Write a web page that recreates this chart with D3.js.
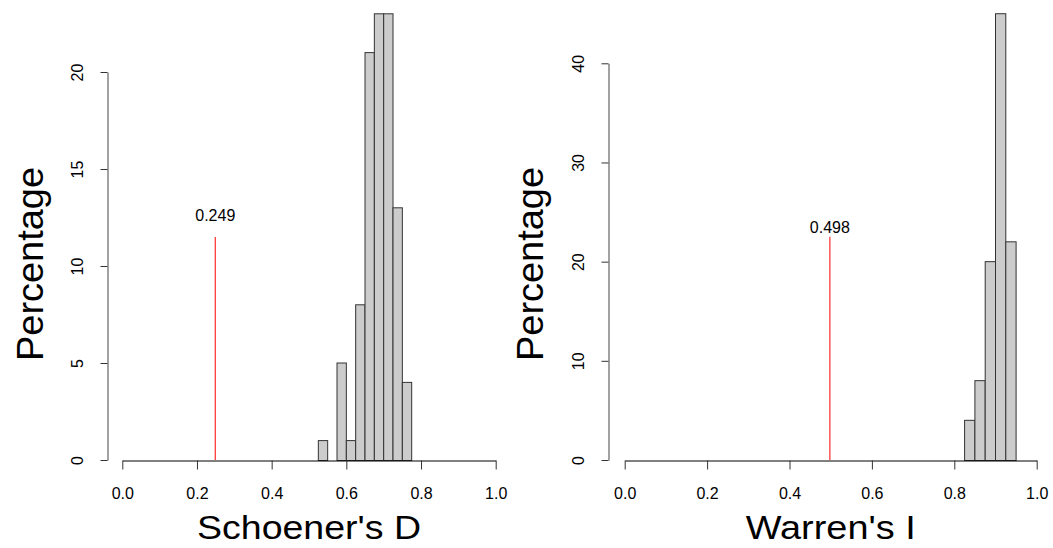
<!DOCTYPE html>
<html>
<head>
<meta charset="utf-8">
<script src="https://cdn.jsdelivr.net/npm/d3@7"></script>
<style>
  body { margin: 0; background: #fff; }
  svg { display: block; }
  text { font-family: "Liberation Sans", Helvetica, Arial, sans-serif; fill: #000; }
</style>
</head>
<body>
<svg id="chart" width="1053" height="548"></svg>
<script>
// ---- Data ----
const binWidth = 0.025;
// Schoener's D histogram: bin start and percentage
const dBinStarts = [0.525, 0.550, 0.575, 0.600, 0.625, 0.650, 0.675, 0.700, 0.725, 0.750];
const dValues    = [1, 0, 5, 1, 8, 21, 23, 23, 13, 4];
const dObserved  = 0.249;
// Warren's I histogram
const iBinStarts = [0.825, 0.850, 0.875, 0.900, 0.925];
const iValues    = [4, 8, 20, 45, 22];
const iObserved  = 0.498;
// Axis ticks
const xTicks = [0, 0.2, 0.4, 0.6, 0.8, 1.0];
const dYTicks = [0, 5, 10, 15, 20];
const iYTicks = [0, 10, 20, 30, 40];
const titles = ["Schoener's D", "Warren's I"];
const yTitle = "Percentage";

const svg = d3.select("#chart");

function panel(cfg) {
  const x = d3.scaleLinear().domain([0, 1]).range([cfg.x0, cfg.x1]);
  const y = d3.scaleLinear().domain([0, cfg.yMax]).range([460, cfg.yTop]);
  const g = svg.append("g");

  // bars
  g.selectAll("rect.bar")
    .data(cfg.starts.map((s, i) => ({ s, v: cfg.values[i] })).filter(d => d.v > 0))
    .join("rect")
    .attr("class", "bar")
    .attr("x", d => x(d.s))
    .attr("width", d => x(d.s + binWidth) - x(d.s))
    .attr("y", d => y(d.v))
    .attr("height", d => y(0) - y(d.v) + 0.5)
    .attr("fill", "#cccccc")
    .attr("stroke", "#333")
    .attr("stroke-width", 1);

  // observed value line
  const maxV = d3.max(cfg.values);
  g.append("line")
    .attr("x1", x(cfg.obs)).attr("x2", x(cfg.obs))
    .attr("y1", y(0)).attr("y2", y(maxV / 2))
    .attr("stroke", "#ff2a2a").attr("stroke-width", 1.2);
  g.append("text")
    .attr("x", x(cfg.obs)).attr("y", cfg.labelY)
    .attr("text-anchor", "middle")
    .attr("font-size", 16)
    .text(d3.format(".3f")(cfg.obs));

  // x axis
  const xa = g.append("g")
    .attr("transform", "translate(0,460.5)")
    .call(d3.axisBottom(x).tickValues(xTicks).tickFormat(d3.format(".1f"))
      .tickSize(9).tickSizeOuter(0).tickPadding(18));
  xa.select(".domain").attr("stroke", "#000");
  xa.selectAll(".tick line").attr("stroke", "#333");
  xa.selectAll("text").attr("font-size", 16).attr("font-family", '"Liberation Sans", Helvetica, Arial, sans-serif');

  // y axis
  const ya = g.append("g")
    .attr("transform", `translate(${cfg.yAxisX},0)`)
    .call(d3.axisLeft(y).tickValues(cfg.yTicks).tickSize(7).tickSizeOuter(0));
  ya.select(".domain").attr("stroke", "#444");
  ya.selectAll(".tick line").attr("stroke", "#333");
  ya.selectAll("text")
    .attr("font-size", 16)
    .attr("font-family", '"Liberation Sans", Helvetica, Arial, sans-serif')
    .attr("text-anchor", "middle")
    .attr("x", 0).attr("dy", null)
    .attr("y", -25)
    .attr("transform", "rotate(-90)");

  // titles
  g.append("text")
    .attr("x", (cfg.x0 + cfg.x1) / 2).attr("y", 539)
    .attr("text-anchor", "middle")
    .attr("font-size", 34)
    .attr("textLength", cfg.titleLen).attr("lengthAdjust", "spacingAndGlyphs")
    .text(cfg.title);
  g.append("text")
    .attr("transform", `translate(${cfg.yTitleX},264) rotate(-90)`)
    .attr("text-anchor", "middle")
    .attr("font-size", 36)
    .attr("textLength", 194).attr("lengthAdjust", "spacingAndGlyphs")
    .text(yTitle);
}

panel({ x0: 122.3, x1: 495.7, yMax: 20, yTop: 72, starts: dBinStarts, values: dValues,
        obs: dObserved, labelY: 221, yTicks: dYTicks, yAxisX: 107.5, title: titles[0],
        titleLen: 224, yTitleX: 43 });
panel({ x0: 624.7, x1: 1036.7, yMax: 40, yTop: 63.3, starts: iBinStarts, values: iValues,
        obs: iObserved, labelY: 233, yTicks: iYTicks, yAxisX: 608.5, title: titles[1],
        titleLen: 170, yTitleX: 543 });
</script>
</body>
</html>
